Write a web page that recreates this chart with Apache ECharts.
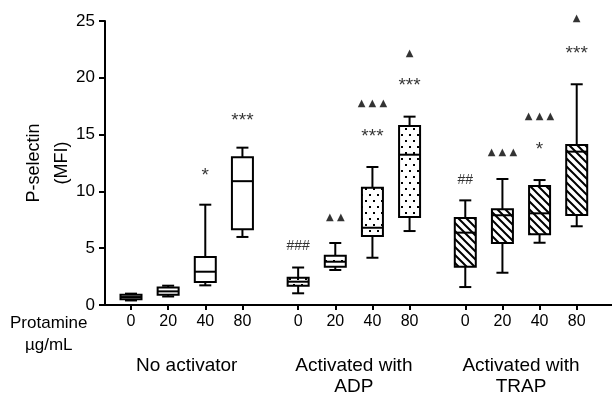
<!DOCTYPE html>
<html>
<head>
<meta charset="utf-8">
<script src="https://cdn.jsdelivr.net/npm/echarts@6/dist/echarts.min.js"></script>
<style>
html, body { margin: 0; padding: 0; background: #fff; }
#chart { width: 612px; height: 393px; }
</style>
</head>
<body>
<div id="chart"></div>
<script>
// data: [min, q1, median, q3, max] per protamine dose
var doses = ['0', '20', '40', '80'];
var groups = ['No activator', 'Activated with\nADP', 'Activated with\nTRAP'];
var noActivator = [
    [0.4, 0.5, 0.7, 0.9, 1.0],
    [0.75, 0.9, 1.2, 1.55, 1.7],
    [1.73, 2.02, 2.93, 4.22, 8.83],
    [5.99, 6.66, 10.9, 13.0, 13.85]
];
var withADP = [
    [1.03, 1.7, 2.05, 2.4, 3.3],
    [3.08, 3.37, 3.81, 4.34, 5.46],
    [4.16, 6.07, 6.8, 10.33, 12.15],
    [6.51, 7.75, 13.23, 15.76, 16.58]
];
var withTRAP = [
    [1.58, 3.37, 6.37, 7.66, 9.21],
    [2.84, 5.46, 7.9, 8.42, 11.09],
    [5.48, 6.22, 8.07, 10.48, 11.0],
    [6.93, 7.92, 13.5, 14.08, 19.43]
];
// significance marks: [group, dose, text, y]
var marks = [
    [0, 2, '*', 11.7],
    [0, 3, '***', 16.6],
    [1, 0, '###', 5.2],
    [1, 1, '▲ ▲', 7.75],
    [1, 2, '***', 15.2],
    [1, 2, '▲ ▲ ▲', 17.75],
    [1, 3, '***', 19.65],
    [1, 3, '▲', 22.15],
    [2, 0, '##', 11.0],
    [2, 1, '▲ ▲ ▲', 13.47],
    [2, 2, '*', 14.0],
    [2, 2, '▲ ▲ ▲', 16.58],
    [2, 3, '***', 22.45],
    [2, 3, '▲', 25.2]
];

var GAP = 0.5;
function xPos(g, i) { return g * (doses.length + GAP) + i; }

// fill patterns
function dotTile() {
    var c = document.createElement('canvas');
    c.width = 8; c.height = 12;
    var g = c.getContext('2d');
    g.fillStyle = '#fff'; g.fillRect(0, 0, 8, 12);
    g.fillStyle = '#000';
    g.fillRect(1, 2, 2, 2);
    g.fillRect(5, 8, 2, 2);
    return c;
}
function hatchTile() {
    var c = document.createElement('canvas');
    c.width = 8; c.height = 8;
    var g = c.getContext('2d');
    g.fillStyle = '#fff'; g.fillRect(0, 0, 8, 8);
    g.strokeStyle = '#000'; g.lineWidth = 2;
    g.beginPath();
    g.moveTo(-2, -2); g.lineTo(10, 10);
    g.moveTo(-2, 6); g.lineTo(2, 10);
    g.moveTo(6, -2); g.lineTo(10, 2);
    g.stroke();
    return c;
}

function boxData(g, arr) {
    return arr.map(function (v, i) { return [xPos(g, i)].concat(v); });
}

function renderBox(fill) {
    return function (params, api) {
        var x = api.value(0);
        var pMin = api.coord([x, api.value(1)]);
        var pQ1 = api.coord([x, api.value(2)]);
        var pMed = api.coord([x, api.value(3)]);
        var pQ3 = api.coord([x, api.value(4)]);
        var pMax = api.coord([x, api.value(5)]);
        var cx = pMed[0], w = 21, cap = 6;
        var ls = { stroke: '#000', lineWidth: 2 };
        return {
            type: 'group',
            children: [
                { type: 'line', shape: { x1: cx, y1: pMax[1], x2: cx, y2: pQ3[1] }, style: ls },
                { type: 'line', shape: { x1: cx, y1: pQ1[1], x2: cx, y2: pMin[1] }, style: ls },
                { type: 'line', shape: { x1: cx - cap, y1: pMax[1], x2: cx + cap, y2: pMax[1] }, style: ls },
                { type: 'line', shape: { x1: cx - cap, y1: pMin[1], x2: cx + cap, y2: pMin[1] }, style: ls },
                { type: 'rect', shape: { x: cx - w / 2, y: pQ3[1], width: w, height: pQ1[1] - pQ3[1] },
                  style: { fill: fill, stroke: '#000', lineWidth: 2 } },
                { type: 'line', shape: { x1: cx - w / 2, y1: pMed[1], x2: cx + w / 2, y2: pMed[1] }, style: ls }
            ]
        };
    };
}

var tickPos = [], tickText = {};
groups.forEach(function (gname, g) {
    doses.forEach(function (d, i) { tickPos.push(xPos(g, i)); tickText[xPos(g, i)] = d; });
});
var groupPos = groups.map(function (n, g) { return xPos(g, (doses.length - 1) / 2); });

function markStyle(t) {
    if (t.indexOf('▲') >= 0) return { fontSize: 10, fontFamily: 'DejaVu Sans', offset: 0 };
    if (t.indexOf('#') >= 0) return { fontSize: 14, fontFamily: 'Liberation Sans', offset: 0 };
    return { fontSize: 19, fontFamily: 'Liberation Sans', offset: 4 };
}
var markData = marks.map(function (m) {
    var s = markStyle(m[2]);
    return {
        value: [xPos(m[0], m[1]), m[3]],
        label: { formatter: m[2], fontSize: s.fontSize, fontFamily: s.fontFamily, offset: [0, s.offset] }
    };
});

var chart = echarts.init(document.getElementById('chart'));
var option = {
    animation: false,
    textStyle: { fontFamily: 'Liberation Sans', color: '#000' },
    grid: { left: 105, right: 0, top: 21, bottom: 88, containLabel: false, outerBoundsMode: 'none' },
    xAxis: [{
        type: 'value',
        min: -0.7,
        max: 12.95,
        splitLine: { show: false },
        axisLine: { lineStyle: { color: '#000', width: 2 } },
        axisTick: { customValues: tickPos, length: 5, lineStyle: { color: '#000', width: 2 } },
        axisLabel: {
            customValues: tickPos,
            formatter: function (v) { return tickText[v]; },
            color: '#000', fontSize: 16, margin: 9
        }
    }, {
        type: 'value',
        position: 'bottom',
        min: -0.7,
        max: 12.95,
        splitLine: { show: false },
        axisLine: { show: false },
        axisTick: { show: false },
        axisLabel: {
            customValues: groupPos,
            formatter: function (v) { return groups[groupPos.indexOf(v)]; },
            color: '#000', fontSize: 19, lineHeight: 21, margin: 50,
            verticalAlign: 'top'
        }
    }],
    yAxis: {
        type: 'value',
        min: 0,
        max: 25,
        interval: 5,
        name: 'P-selectin\n(MFI)',
        nameLocation: 'middle',
        nameRotate: 90,
        nameGap: 29,
        nameMoveOverlap: false,
        nameTextStyle: { color: '#000', fontSize: 18, lineHeight: 28 },
        splitLine: { show: false },
        axisLine: { show: true, onZero: false, lineStyle: { color: '#000', width: 2 } },
        axisTick: { show: true, length: 6, lineStyle: { color: '#000', width: 2 } },
        axisLabel: { color: '#000', fontSize: 17, margin: 10 }
    },
    graphic: [{
        type: 'text',
        left: 10,
        top: 312,
        style: { text: 'Protamine\nµg/mL', fontSize: 17, lineHeight: 22, fill: '#000',
                 fontFamily: 'Liberation Sans', textAlign: 'center', x: 40 }
    }],
    series: [{
        type: 'custom',
        name: 'No activator',
        renderItem: renderBox('#fff'),
        data: boxData(0, noActivator)
    }, {
        type: 'custom',
        name: 'ADP',
        renderItem: renderBox({ image: dotTile(), repeat: 'repeat' }),
        data: boxData(1, withADP)
    }, {
        type: 'custom',
        name: 'TRAP',
        renderItem: renderBox({ image: hatchTile(), repeat: 'repeat' }),
        data: boxData(2, withTRAP)
    }, {
        type: 'scatter',
        symbolSize: 0,
        clip: false,
        label: { show: true, position: 'inside', color: '#000' },
        data: markData
    }]
};
chart.setOption(option);
</script>
</body>
</html>
